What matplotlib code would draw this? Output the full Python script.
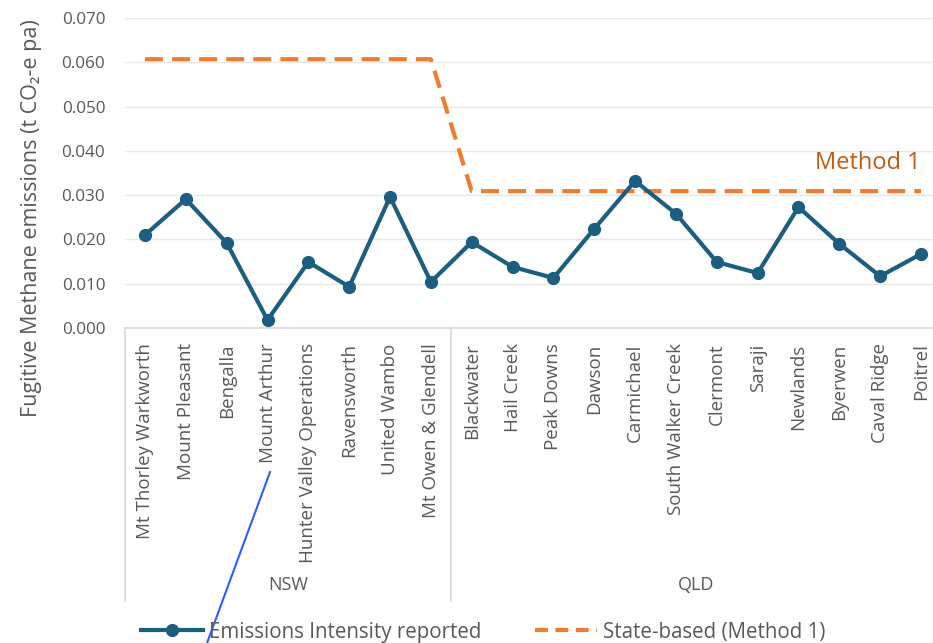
import matplotlib
matplotlib.use("Agg")
import matplotlib.pyplot as plt
from matplotlib.lines import Line2D
import matplotlib.transforms as mtransforms

plt.rcParams['font.family'] = ['Open Sans', 'DejaVu Sans']

sites = ["Mt Thorley Warkworth", "Mount Pleasant", "Bengalla", "Mount Arthur",
         "Hunter Valley Operations", "Ravensworth", "United Wambo", "Mt Owen & Glendell",
         "Blackwater", "Hail Creek", "Peak Downs", "Dawson", "Carmichael",
         "South Walker Creek", "Clermont", "Saraji", "Newlands", "Byerwen",
         "Caval Ridge", "Poitrel"]
states = ["NSW"] * 8 + ["QLD"] * 12
reported = [0.0210, 0.0291, 0.0192, 0.0018, 0.0149, 0.0093, 0.0296, 0.0104,
            0.0194, 0.0138, 0.0113, 0.0224, 0.0332, 0.0258, 0.0149, 0.0124,
            0.0273, 0.0190, 0.0117, 0.0167]
method1 = [0.0607] * 8 + [0.0309] * 12
yticks = [0.0, 0.01, 0.02, 0.03, 0.04, 0.05, 0.06, 0.07]

W, H = 933, 643
fig = plt.figure(figsize=(W / 100, H / 100), dpi=100)
n = len(sites)
step = (921 - 145) / (n - 1)
left_px, right_px = 145 - step / 2, 921 + step / 2
top_px, bot_px = 18, 328
ax = fig.add_axes([left_px / W, 1 - bot_px / H, (right_px - left_px) / W, (bot_px - top_px) / H])

gray = '#595959'
blue = '#1b5e80'
orange = '#ED7D31'
x = list(range(n))

ax.plot(x, method1, color=orange, lw=3, dashes=(4.3, 2.2), zorder=3, solid_capstyle='butt')
ax.plot(x, reported, color=blue, lw=3, marker='o', markersize=8.5, zorder=4)

ax.set_xlim(-0.5, n - 0.5)
ax.set_ylim(0, 0.07)
ax.set_yticks(yticks)
ax.set_yticklabels([f"{v:.3f}" for v in yticks], color=gray, fontsize=12.3)
ax.grid(axis='y', color='#e8e8e8', lw=1)
ax.set_axisbelow(True)
for s in ['top', 'right', 'left']:
    ax.spines[s].set_visible(False)
ax.spines['bottom'].set_color('#d9d9d9')
ax.spines['bottom'].set_linewidth(1.2)
ax.tick_params(axis='y', length=0, pad=14)
ax.tick_params(axis='x', length=0, pad=11)
ax.set_xticks(x)
ax.set_xticklabels(sites, rotation=90, color=gray, fontsize=13.5)

fig.text(32 / W, 1 - 218 / H, "Fugitive Methane emissions (t CO₂-e pa)", color=gray,
         fontsize=15.5, rotation=90, ha='center', va='center')

# group separators and labels
trans = mtransforms.blended_transform_factory(ax.transData, ax.transAxes)
ysep = -(601 - bot_px) / (bot_px - top_px)
groups = []
for st in states:
    if st not in groups:
        groups.append(st)
start = 0
bounds = [-0.5]
for g in groups:
    cnt = states.count(g)
    end = start + cnt
    bounds.append(end - 0.5)
    ax.text((start + end - 1) / 2, -(585 - bot_px) / (bot_px - top_px), g,
            transform=trans, ha='center', va='center', color=gray, fontsize=13)
    start = end
for b in bounds:
    ax.add_line(Line2D([b, b], [0, ysep], transform=trans, color='#d9d9d9', lw=1.2, clip_on=False))

ax.text(19.0, 0.0359, "Method 1", color='#C55A11', fontsize=17, ha='right', va='baseline')

handles = [Line2D([], [], color=blue, lw=3, marker='o', markersize=8.5),
           Line2D([], [], color=orange, lw=3, dashes=(3.1, 1.8))]
fig.legend(handles, ["Emissions Intensity reported", "State-based (Method 1)"],
           loc='center', bbox_to_anchor=(0.518, 0.017), ncol=2, frameon=False,
           fontsize=14.8, labelcolor=gray, handlelength=3.0, columnspacing=2.6,
           handletextpad=0.3)

# blue annotation stroke
fig.add_artist(Line2D([270 / W, 207 / W], [1 - 472 / H, 1 - 643 / H],
                      transform=fig.transFigure, color='#2f5cff', lw=1.5))

fig.savefig("out.png", dpi=100)
